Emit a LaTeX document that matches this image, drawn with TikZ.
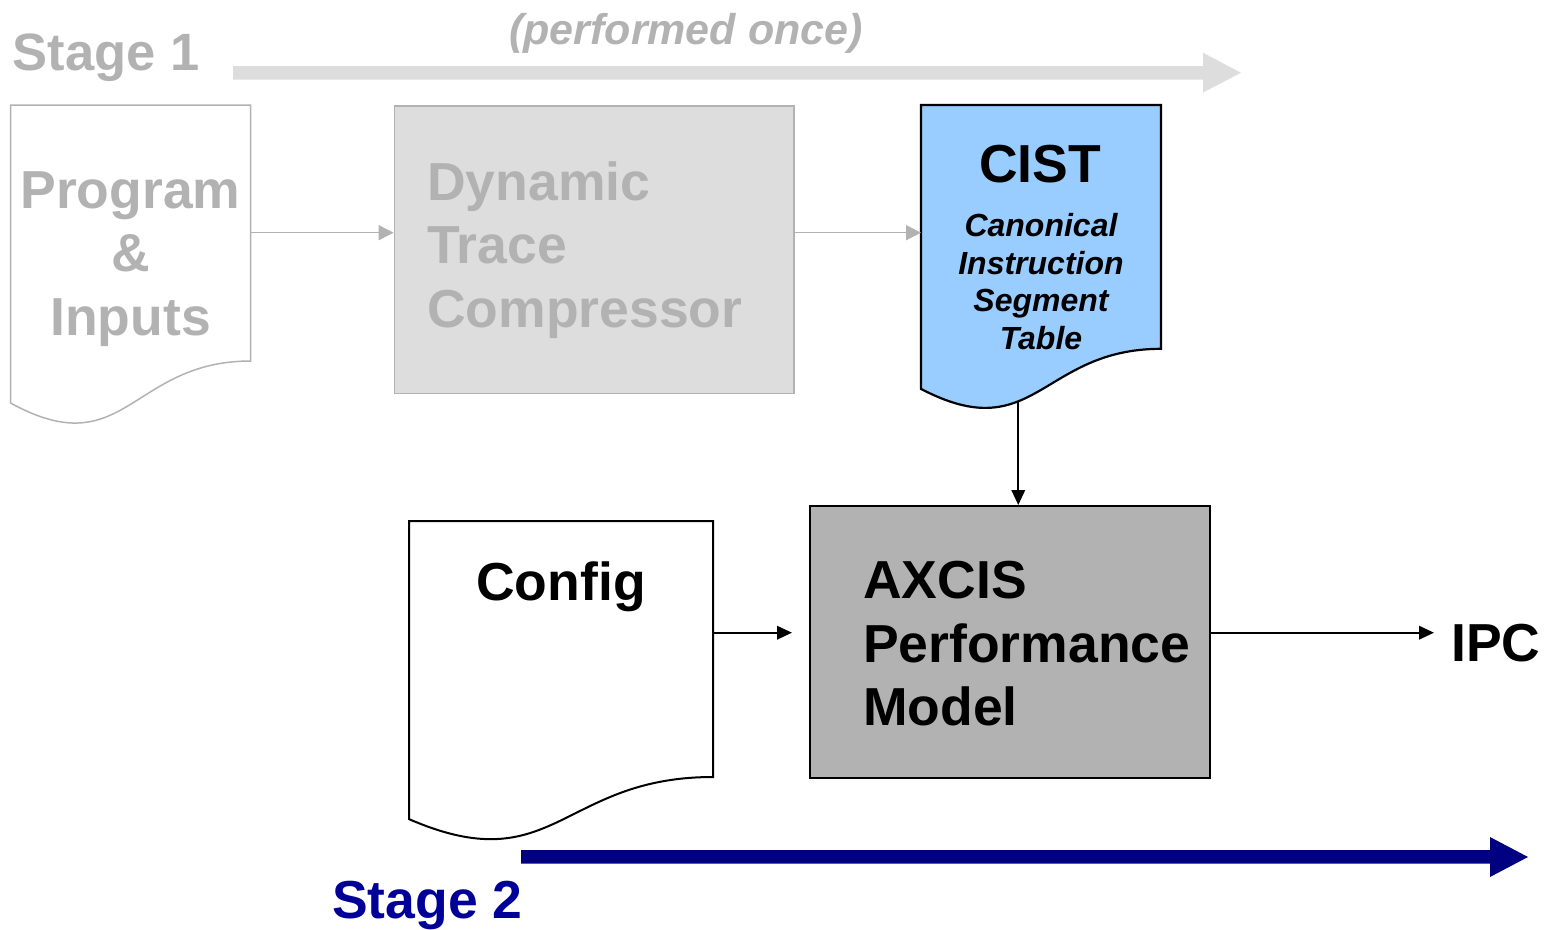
\documentclass[tikz,border=0pt]{standalone}
\usepackage{fontspec}
\setmainfont{Liberation Sans}
\usetikzlibrary{arrows.meta}
\definecolor{lightgr}{HTML}{DDDDDD}
\definecolor{midgr}{HTML}{B2B2B2}
\definecolor{cistblue}{HTML}{99CCFF}
\definecolor{navyarrow}{HTML}{000080}
\definecolor{stageblue}{HTML}{000099}
\tikzset{
  bigtxt/.style={inner sep=0pt, font=\fontsize{53.5}{63.5}\selectfont\bfseries},
  graytxt/.style={bigtxt, text=midgr},
  garrow/.style={draw=midgr, line width=1.5pt, -{Triangle[length=15pt,width=15pt]}},
  barrow/.style={draw=black, line width=2pt, -{Triangle[length=15pt,width=13.5pt]}},
  docgray/.style={draw=midgr, line width=1.5pt, fill=white},
  docblack/.style={draw=black, line width=2.2pt},
}
\begin{document}
\begin{tikzpicture}[x=1pt,y=-1pt]
\useasboundingbox (0,0) rectangle (1547,929);

% Stage 1 banner
\node[graytxt, font=\fontsize{52.5}{60}\selectfont\bfseries, anchor=base west] (stage1) at (12.5,70.5) {Stage 1};
\node[inner sep=0pt, text=midgr, font=\fontsize{43}{50}\selectfont\bfseries\itshape, anchor=base] (once) at (686,44) {(performed once)};
\fill[lightgr] (233,66) -- (1203,66) -- (1203,52.7) -- (1241,72.8) -- (1203,92.5) -- (1203,79.7) -- (233,79.7) -- cycle;

% Program & Inputs document
\draw[docgray] (10.7,105) -- (250.7,105) -- (250.7,361)
  .. controls (130.7,361) and (125,465.7) .. (10.7,403.1) -- cycle;
\coordinate (progR) at (250.7,232.7);
\node[graytxt, align=center, anchor=north] (prog) at (130.5,171.2) {Program\\\&\\Inputs};

% Dynamic Trace Compressor
\node[draw=midgr, fill=lightgr, line width=1.5pt, minimum width=399.6pt, minimum height=287.7pt,
      inner sep=0pt, anchor=north west] (dtc) at (393.6,105) {};
\node[graytxt, align=left, anchor=north west] (dtctext) at (427,161.2) {Dynamic\\Trace\\Compressor};

% CIST document
\draw[docblack, fill=cistblue] (921,105) -- (1161,105) -- (1161,348.8)
  .. controls (1041,348.8) and (1035,448.5) .. coordinate[pos=0.61] (cistbot) (921,388.9) -- cycle;
\coordinate (cistL) at (921,232.7);
\node[bigtxt, anchor=north] (cist) at (1040,144.5) {CIST};
\node[inner sep=0pt, font=\fontsize{32}{37.8}\selectfont\bfseries\itshape, align=center, anchor=north]
  (cistsub) at (1041,213) {Canonical\\Instruction\\Segment\\Table};

% Config document
\draw[docblack, line width=2pt, fill=white] (409,521) -- (713,521) -- (713,777)
  .. controls (561,777) and (554,882) .. (409,819.1) -- cycle;
\coordinate (cfgR) at (713,632.7);
\node[bigtxt, anchor=north] (config) at (561,561.2) {Config};

% AXCIS box
\node[draw=black, fill=midgr, line width=2.4pt, minimum width=400pt, minimum height=272pt,
      inner sep=0pt, anchor=north west] (axcis) at (809,505) {};
\node[bigtxt, align=left, anchor=north west] (axcistext) at (863,561.2) {AXCIS\\Performance\\Model};

% IPC
\node[bigtxt, anchor=base west] (ipc) at (1451,661.7) {IPC};
\coordinate (ipcIn) at (1434,632.7);

% connectors
\draw[garrow] (progR) -- (dtc.west |- progR);
\draw[garrow] (dtc.east |- cistL) -- (cistL);
\draw[barrow] (cistbot) -- (axcis.north -| cistbot);
\draw[barrow, shorten >=17pt] (cfgR) -- (axcis.west |- cfgR);
\draw[barrow] (axcis.east |- ipcIn) -- (ipcIn);

% Stage 2 banner
\fill[navyarrow] (521,850) -- (1490,850) -- (1490,837) -- (1528,857) -- (1490,877) -- (1490,863.5) -- (521,863.5) -- cycle;
\node[bigtxt, text=stageblue, anchor=base west] (stage2) at (332,918) {Stage 2};
\end{tikzpicture}
\end{document}
